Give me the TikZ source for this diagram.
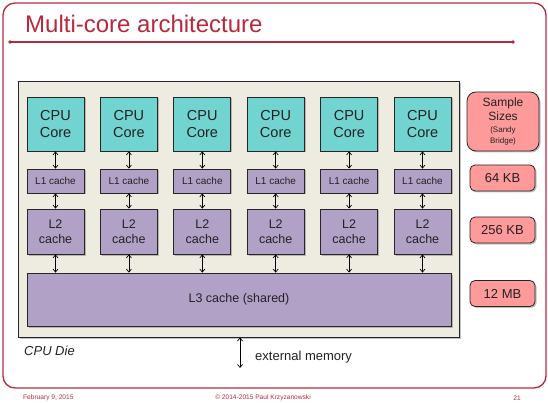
\documentclass[tikz,border=0pt]{standalone}
\usepackage{fontspec}
\setmainfont{Liberation Sans}
\usetikzlibrary{arrows.meta,shadows}
\definecolor{frame}{HTML}{B8283C}
\definecolor{diefill}{HTML}{EEEBE1}
\definecolor{corefill}{HTML}{72D4D0}
\definecolor{cachefill}{HTML}{B1A1C7}
\definecolor{sizefill}{HTML}{FF9A9A}
\definecolor{txt}{HTML}{222222}
\tikzset{
  shad/.style={drop shadow={shadow xshift=1.5pt,shadow yshift=-1.5pt,opacity=0.4,fill=black!60}},
  corebox/.style={draw=black!85,line width=0.8pt,fill=corefill,minimum width=57pt,minimum height=54pt,inner sep=0pt,align=center,font=\fontsize{14.5}{16.5}\selectfont,text=txt,shad},
  lonebox/.style={draw=black!85,line width=0.8pt,fill=cachefill,minimum width=57pt,minimum height=24pt,inner sep=0pt,font=\fontsize{10}{12}\selectfont,text=txt,shad},
  ltwobox/.style={draw=black!85,line width=0.8pt,fill=cachefill,minimum width=57pt,minimum height=45pt,inner sep=0pt,align=center,font=\fontsize{12.5}{15}\selectfont,text=txt,shad},
  sizebox/.style={draw=black!85,line width=0.8pt,fill=sizefill,rounded corners=5pt,minimum width=65pt,minimum height=26pt,inner sep=0pt,align=center,font=\fontsize{13}{15}\selectfont,text=txt,shad},
  link/.style={<->,>={Straight Barb[length=3pt,width=5pt,line width=0.7pt]},line width=0.8pt,black},
  foot/.style={text=frame,font=\fontsize{6.6}{8}\selectfont,inner sep=0pt},
}
\begin{document}
\begin{tikzpicture}[x=1pt,y=-1pt]
\useasboundingbox (0,0) rectangle (548,403);
% frame
\draw[frame,line width=1.3pt,rounded corners=12pt] (3,3) rectangle (546,388);
\node[anchor=base west,text=frame,font=\fontsize{24}{28}\selectfont,inner sep=0pt] (title) at (25,33) {Multi-core architecture};
\coordinate (tl) at (10,42);
\coordinate (tr) at (513,42);
\draw[frame,line width=1.1pt] (tl) -- (tr);
\fill[frame] (tl) circle (1.8pt) (tr) circle (1.8pt);
% die
\node[draw=black!85,line width=1pt,fill=diefill,minimum width=441pt,minimum height=255pt,inner sep=0pt,shad] (die) at (238.5,209.5) {};
% cores and caches
\foreach \i in {0,...,5}{
  \pgfmathsetmacro{\cx}{55.5+73.4*\i}
  \node[corebox] (c\i) at (\cx,124) {CPU\\Core};
  \node[lonebox] (lo\i) at (\cx,181) {L1 cache};
  \node[ltwobox] (lt\i) at (\cx,231.5) {L2\\cache};
}
\node[draw=black!85,line width=0.8pt,fill=cachefill,minimum width=424pt,minimum height=53pt,inner sep=0pt,font=\fontsize{12.5}{15}\selectfont,text=txt,shad] (l3) at (239,299.5) {L3 cache (shared)};
\foreach \i in {0,...,5}{
  \draw[link] (c\i.south) -- (lo\i.north);
  \draw[link] (lo\i.south) -- (lt\i.north);
  \draw[link] (lt\i.south) -- (l3.north -| lt\i.south);
}
\node[anchor=west,font=\itshape\fontsize{13}{15}\selectfont,text=txt,inner sep=0pt] (dielabel) at (24,351) {CPU Die};
\coordinate (ext) at (240,368);
\draw[link] (ext |- die.south) -- (ext);
\node[anchor=west,font=\fontsize{13}{15}\selectfont,text=txt,inner sep=0pt] (extlabel) at (255,357) {external memory};
% sizes
\node[sizebox,rounded corners=9pt,minimum width=72pt,minimum height=59pt,font=\fontsize{12}{14}\selectfont] (ss) at (503,121.5) {Sample\\Sizes\\[-2pt]{\fontsize{8}{10}\selectfont(Sandy}\\[-3pt]{\fontsize{8}{10}\selectfont Bridge)}};
\node[sizebox] (s1) at (502.5,178) {64 KB};
\node[sizebox] (s2) at (502.5,230) {256 KB};
\node[sizebox] (s3) at (502.5,293.5) {12 MB};
% footer
\node[foot,anchor=west] (date) at (23,398) {February 9, 2015};
\node[foot] (copy) at (263,398) {© 2014-2015 Paul Krzyzanowski};
\node[foot] (page) at (517,398) {21};
\end{tikzpicture}
\end{document}
